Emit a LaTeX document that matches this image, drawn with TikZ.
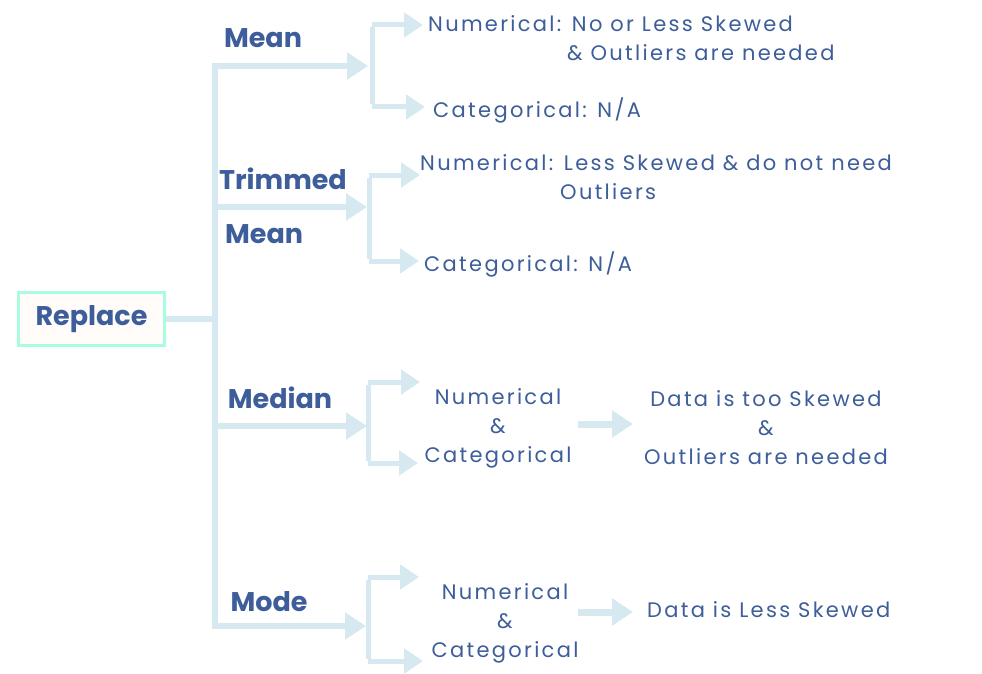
\documentclass[tikz,border=0pt]{standalone}
\usepackage{fontspec}
\setmainfont{Poppins}
\newfontfamily\bodyfont{Poppins}[LetterSpace=11]
\newfontfamily\headfont{Poppins}
\usetikzlibrary{arrows.meta}
\definecolor{txt}{HTML}{3D5E9A}
\definecolor{arr}{HTML}{D6E9F0}
\definecolor{mint}{HTML}{AAFCE0}
\definecolor{boxfill}{HTML}{FFFCFA}
\begin{document}
\begin{tikzpicture}[x=1pt,y=-1pt,
  link/.style={draw=arr,line width=6pt},
  sublink/.style={draw=arr,line width=5pt},
  bigarrow/.style={link,-{Triangle[length=21pt,width=26pt]}},
  subarrow/.style={sublink,-{Triangle[length=19pt,width=24pt]}},
  body/.style={text=txt,inner sep=0pt,font=\bodyfont\fontsize{21}{29}\selectfont},
  head/.style={text=txt,inner sep=0pt,font=\headfont\bfseries\fontsize{27}{54}\selectfont}]
\useasboundingbox[fill=white] (0,0) rectangle (982,674);

% root
\node[draw=mint,line width=3pt,fill=boxfill,minimum width=146pt,minimum height=53pt,
  text=txt,font=\headfont\bfseries\fontsize{27}{30}\selectfont] (rep) at (91.5,319) {Replace};

% trunk
\coordinate (ttop) at (215,63);
\coordinate (tbot) at (215,629);
\draw[link] (ttop) -- (tbot);
\draw[link] (rep.east) -- (rep.east -| ttop);

% labels
\node[head] (mean) at (263,38) {Mean};
\node[head,align=left,anchor=west] (tmean) at (219,206) {Trimmed\\\hspace*{6pt}Mean};
\node[head] (median) at (280,398) {Median};
\node[head] (mode) at (269,602) {Mode};

% branch coordinates
\coordinate (a0) at (213,66);  \coordinate (a1) at (368,66);
\coordinate (b0) at (213,207); \coordinate (b1) at (367,207);
\coordinate (c0) at (213,426); \coordinate (c1) at (367,426);
\coordinate (d0) at (213,626); \coordinate (d1) at (366,626);
\draw[bigarrow] (a0) -- (a1);
\draw[bigarrow] (b0) -- (b1);
\draw[bigarrow] (c0) -- (c1);
\draw[bigarrow] (d0) -- (d1);

% forks
\coordinate (au) at (372,25);  \coordinate (ad) at (372,107);
\coordinate (bu) at (369,175); \coordinate (bd) at (369,261);
\coordinate (cu) at (368,382); \coordinate (cd) at (368,463);
\coordinate (du) at (368,577); \coordinate (dd) at (368,661);
\draw[sublink] ([yshift=-2.5pt]au) -- ([yshift=2.5pt]ad);
\draw[sublink] ([yshift=-2.5pt]bu) -- ([yshift=2.5pt]bd);
\draw[sublink] ([yshift=-2.5pt]cu) -- ([yshift=2.5pt]cd);
\draw[sublink] ([yshift=-2.5pt]du) -- ([yshift=2.5pt]dd);

% texts
\node[body,align=left,anchor=north west] (a1t) at (428,15) {Numerical: No or Less Skewed\\\hspace*{139pt}\& Outliers are needed};
\node[body,anchor=west] (a2t) at (433,110) {Categorical: N/A};
\node[body,align=left,anchor=north west] (b1t) at (420,154) {Numerical: Less Skewed \& do not need\\\hspace*{140pt}Outliers};
\node[body,anchor=west] (b2t) at (424,264) {Categorical: N/A};
\node[body,align=center] (ct) at (498,428) {Numerical\\\&\\Categorical};
\node[body,align=center] (dt) at (505,623) {Numerical\\\&\\Categorical};
\node[body,align=center] (ce) at (766,428) {Data is too Skewed\\\&\\Outliers are needed};
\node[body,anchor=west] (de) at (647,610) {Data is Less Skewed};

% fork arrows
\draw[subarrow] (au) -- (423,25);
\draw[subarrow] (ad) -- (425,107);
\draw[subarrow] (bu) -- (420,175);
\draw[subarrow] (bd) -- (419,261);
\draw[subarrow] (cu) -- (420,382);
\draw[subarrow] (cd) -- (418,463);
\draw[subarrow] (du) -- (419,577);
\draw[subarrow] (dd) -- (423,661);

% result arrows
\coordinate (cr) at (578,424);
\coordinate (dr) at (578,612);
\coordinate (crt) at (633,424);
\coordinate (drt) at (633,612);
\draw[bigarrow,line width=7pt] (cr) -- (crt);
\draw[bigarrow,line width=7pt] (dr) -- (drt);
\end{tikzpicture}
\end{document}
